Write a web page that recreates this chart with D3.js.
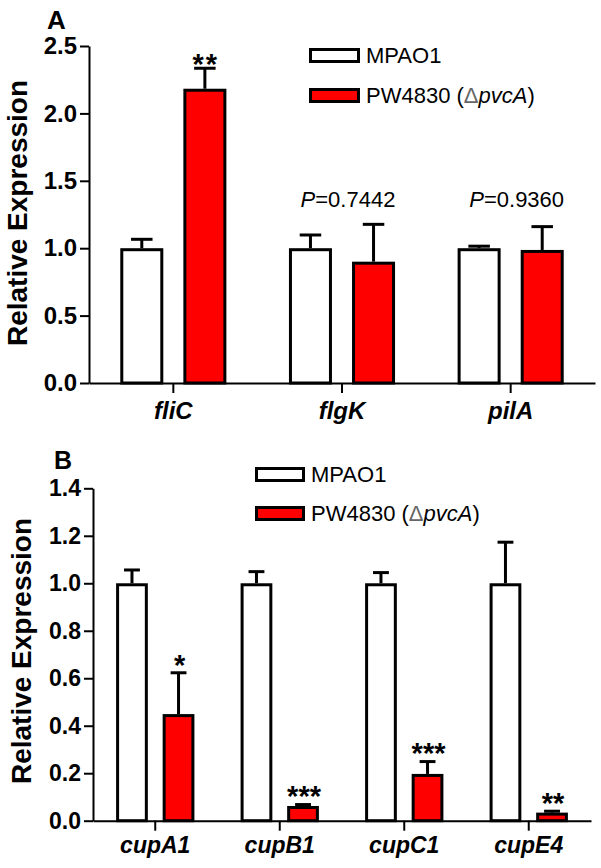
<!DOCTYPE html>
<html>
<head>
<meta charset="utf-8">
<script src="https://cdn.jsdelivr.net/npm/d3@7/dist/d3.min.js"></script>
<style>
  html, body { margin: 0; padding: 0; background: #fff; }
  svg { display: block; }
  text { font-family: "Liberation Sans", Arial, sans-serif; }
</style>
</head>
<body>
<svg id="chart" width="601" height="868"></svg>
<script>
// ---------- Data: panel A ----------
const seriesNames = ["MPAO1", "PW4830"];
const categoriesA = ["fliC", "flgK", "pilA"];
const mpao1A = [1.0, 1.0, 1.0];
const mpao1ErrA = [0.066, 0.098, 0.015];
const pw4830A = [2.183, 0.90, 0.987];
const pw4830ErrA = [0.152, 0.277, 0.173];
const starsA = ["**", "", ""];
const pValuesA = ["", "0.7442", "0.9360"];
const ticksA = [0, 0.5, 1.0, 1.5, 2.0, 2.5];

// ---------- Data: panel B ----------
const categoriesB = ["cupA1", "cupB1", "cupC1", "cupE4"];
const mpao1B = [1.0, 1.0, 1.0, 1.0];
const mpao1ErrB = [0.056, 0.049, 0.045, 0.173];
const pw4830B = [0.449, 0.062, 0.197, 0.034];
const pw4830ErrB = [0.174, 0.006, 0.052, 0.006];
const starsB = ["*", "***", "***", "**"];
const ticksB = [0, 0.2, 0.4, 0.6, 0.8, 1.0, 1.2, 1.4];

const svg = d3.select("#chart");

function drawPanel(p) {
  const g = svg.append("g");
  const x = d3.scaleBand().domain(p.categories).range([p.x0, p.x1]).padding(0);
  const y = d3.scaleLinear().domain([0, p.ymax]).range([p.y0, p.y1]);
  const bw = x.bandwidth();
  const outer = bw * 0.255;
  const off = bw * 0.187;
  const capW = outer * 0.5;

  // Y axis
  const ya = g.append("g").attr("transform", `translate(${p.x0},0)`)
    .call(d3.axisLeft(y).tickValues(p.ticks).tickFormat(d3.format(".1f"))
      .tickSize(9).tickSizeOuter(0).tickPadding(3));
  ya.select(".domain").attr("stroke", "#000").attr("stroke-width", 2);
  ya.selectAll(".tick line").attr("stroke", "#000").attr("stroke-width", 2);
  ya.selectAll(".tick text").attr("font-size", p.tickFs).attr("font-weight", "bold")
    .attr("fill", "#000").attr("font-family", "Liberation Sans, Arial, sans-serif");

  // X axis
  const xa = g.append("g").attr("transform", `translate(0,${p.y0})`)
    .call(d3.axisBottom(x).tickSize(10).tickSizeOuter(0));
  xa.select(".domain").attr("stroke", "#000").attr("stroke-width", 2);
  xa.selectAll(".tick line").attr("stroke", "#000").attr("stroke-width", 2);
  xa.selectAll(".tick text").attr("font-size", p.xFs).attr("font-weight", "bold")
    .attr("font-style", "italic").attr("fill", "#000")
    .attr("font-family", "Liberation Sans, Arial, sans-serif")
    .attr("y", p.xLabelDy).attr("dy", null);

  const series = [
    { vals: p.mpao1, errs: p.mpao1Err, fill: "#ffffff", dx: -off },
    { vals: p.pw, errs: p.pwErr, fill: "#ff0000", dx: off }
  ];
  series.forEach(s => {
    // error bars (upper only)
    g.append("g").selectAll("g").data(p.categories).join("g").each(function (c, i) {
      const cx = x(c) + bw / 2 + s.dx;
      const top = y(s.vals[i] + s.errs[i]);
      const e = d3.select(this);
      e.append("line").attr("x1", cx).attr("x2", cx).attr("y1", y(s.vals[i])).attr("y2", top)
        .attr("stroke", "#000").attr("stroke-width", 3);
      e.append("line").attr("x1", cx - capW / 2).attr("x2", cx + capW / 2).attr("y1", top).attr("y2", top)
        .attr("stroke", "#000").attr("stroke-width", 3);
    });
    // bars
    g.append("g").selectAll("rect").data(p.categories).join("rect")
      .attr("x", (c) => x(c) + bw / 2 + s.dx - (outer - 3) / 2)
      .attr("width", outer - 3)
      .attr("y", (c, i) => y(s.vals[i]) + 1.5)
      .attr("height", (c, i) => y(0) - y(s.vals[i]) - 1.5)
      .attr("fill", s.fill).attr("stroke", "#000").attr("stroke-width", 3);
  });

  // significance stars
  const sfs = 29;
  g.append("g").selectAll("text").data(p.categories).join("text")
    .attr("x", (c) => x(c) + bw / 2 + off + 1)
    .attr("y", (c, i) => y(p.pw[i] + p.pwErr[i]) - p.starGap + 0.58 * sfs)
    .attr("text-anchor", "middle").attr("font-size", sfs).attr("font-weight", "bold")
    .attr("letter-spacing", p.starSpacing)
    .text((c, i) => p.stars[i]);

  // P values
  if (p.pValues) {
    const pv = g.append("g").selectAll("text").data(p.categories).join("text")
      .attr("x", (c) => x(c) + bw / 2 + 6)
      .attr("y", p.pY)
      .attr("text-anchor", "middle").attr("font-size", 22);
    pv.each(function (c, i) {
      if (!p.pValues[i]) return;
      const t = d3.select(this);
      t.append("tspan").attr("font-style", "italic").text("P");
      t.append("tspan").text("=" + p.pValues[i]);
    });
  }

  // Legend
  const lg = g.append("g");
  const fills = ["#ffffff", "#ff0000"];
  seriesNames.forEach((name, i) => {
    lg.append("rect").attr("x", p.legX + 1.5).attr("y", p.legY[i] + 1.5)
      .attr("width", p.legW - 3).attr("height", p.legH - 3)
      .attr("fill", fills[i]).attr("stroke", "#000").attr("stroke-width", 3);
    const t = lg.append("text").attr("x", p.legX + p.legW + 6).attr("y", p.legY[i] + p.legH)
      .attr("font-size", 22).attr("fill", "#000");
    if (i === 0) {
      t.text(name);
    } else {
      t.append("tspan").text(name + " (");
      t.append("tspan").attr("fill", "#666").text("\u0394");
      t.append("tspan").attr("font-style", "italic").text("pvcA");
      t.append("tspan").text(")");
    }
  });

  // Y title
  g.append("text").attr("transform", `translate(${p.titleX},${p.titleY}) rotate(-90)`)
    .attr("text-anchor", "middle").attr("font-size", 28).attr("font-weight", "bold")
    .text("Relative Expression");

  // Panel letter
  g.append("text").attr("x", p.letterX).attr("y", p.letterY)
    .attr("font-size", p.letterFs).attr("font-weight", "bold").text(p.letter);
}

drawPanel({
  categories: categoriesA, mpao1: mpao1A, mpao1Err: mpao1ErrA, pw: pw4830A, pwErr: pw4830ErrA,
  stars: starsA, pValues: pValuesA, ticks: ticksA, ymax: 2.5,
  x0: 89, x1: 595, y0: 383, y1: 46, tickFs: 24, xFs: 24, xLabelDy: 36,
  starGap: 11, starSpacing: 2, pY: 207,
  legX: 309, legW: 51, legH: 15, legY: [48, 88],
  titleX: 27, titleY: 213, letter: "A", letterX: 47, letterY: 29, letterFs: 26
});

drawPanel({
  categories: categoriesB, mpao1: mpao1B, mpao1Err: mpao1ErrB, pw: pw4830B, pwErr: pw4830ErrB,
  stars: starsB, pValues: null, ticks: ticksB, ymax: 1.4,
  x0: 93, x1: 591, y0: 820.7, y1: 488.3, tickFs: 23, xFs: 23, xLabelDy: 32,
  starGap: 15, starSpacing: 0,
  legX: 255, legW: 50, legH: 15, legY: [467, 506],
  titleX: 31, titleY: 651, letter: "B", letterX: 54, letterY: 469, letterFs: 25
});
</script>
</body>
</html>
